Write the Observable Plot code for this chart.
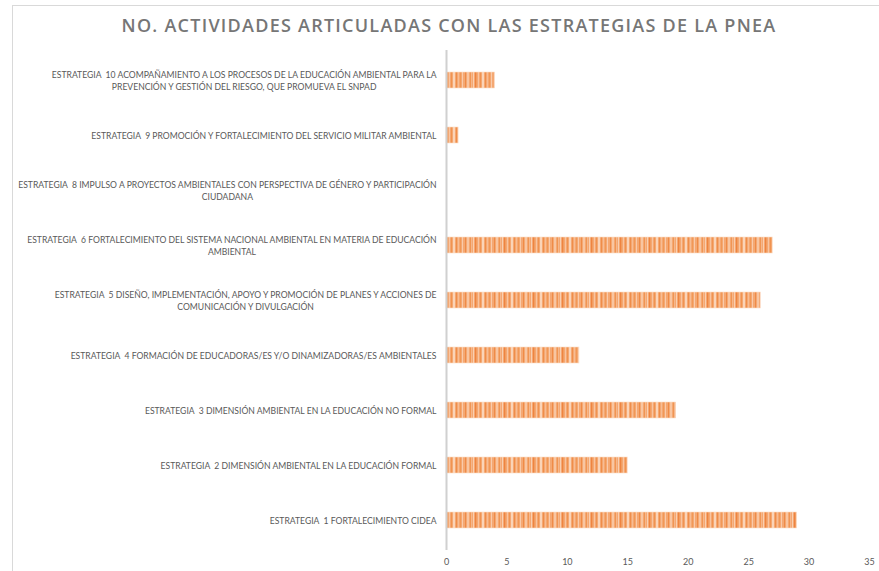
<!DOCTYPE html>
<html>
<head>
<meta charset="utf-8">
<script src="https://cdn.jsdelivr.net/npm/d3@7"></script>
<script src="https://cdn.jsdelivr.net/npm/@observablehq/plot@0.6"></script>
<style>
  html, body { margin: 0; padding: 0; background: #fff; width: 879px; height: 571px; overflow: hidden; }
  #frame { position: absolute; left: 12px; top: 5px; width: 900px; height: 600px; border-top: 1px solid #d9d9d9; border-left: 1px solid #d9d9d9; }
  #title { position: absolute; left: 0; top: 13px; width: 898px; text-align: center; font-family: "Open Sans", sans-serif; font-weight: 600; font-size: 18px; letter-spacing: 1.25px; color: #767676; }
  #chart { position: absolute; left: 0; top: 50px; }
  #chart text { white-space: pre; }
</style>
</head>
<body>
<div id="frame"></div>
<div id="title">NO. ACTIVIDADES ARTICULADAS CON LAS ESTRATEGIAS DE LA PNEA</div>
<div id="chart"></div>
<script>
const categories = [
  "ESTRATEGIA  10 ACOMPAÑAMIENTO A LOS PROCESOS DE LA EDUCACIÓN AMBIENTAL PARA LA\nPREVENCIÓN Y GESTIÓN DEL RIESGO, QUE PROMUEVA EL SNPAD",
  "ESTRATEGIA  9 PROMOCIÓN Y FORTALECIMIENTO DEL SERVICIO MILITAR AMBIENTAL",
  "ESTRATEGIA  8 IMPULSO A PROYECTOS AMBIENTALES CON PERSPECTIVA DE GÉNERO Y PARTICIPACIÓN\nCIUDADANA",
  "ESTRATEGIA  6 FORTALECIMIENTO DEL SISTEMA NACIONAL AMBIENTAL EN MATERIA DE EDUCACIÓN\nAMBIENTAL",
  "ESTRATEGIA  5 DISEÑO, IMPLEMENTACIÓN, APOYO Y PROMOCIÓN DE PLANES Y ACCIONES DE\nCOMUNICACIÓN Y DIVULGACIÓN",
  "ESTRATEGIA  4 FORMACIÓN DE EDUCADORAS/ES Y/O DINAMIZADORAS/ES AMBIENTALES",
  "ESTRATEGIA  3 DIMENSIÓN AMBIENTAL EN LA EDUCACIÓN NO FORMAL",
  "ESTRATEGIA  2 DIMENSIÓN AMBIENTAL EN LA EDUCACIÓN FORMAL",
  "ESTRATEGIA  1 FORTALECIMIENTO CIDEA"
];
const values = [4, 1, 0, 27, 26, 11, 19, 15, 29];
const xTicks = [0, 5, 10, 15, 20, 25, 30, 35];

const data = categories.map((c, i) => ({category: c, value: values[i]}));

const chart = Plot.plot({
  width: 879,
  height: 521,
  marginLeft: 446,
  marginRight: 10,
  marginTop: 0,
  marginBottom: 21,
  style: {fontFamily: "Lato, sans-serif", color: "#595959", background: "transparent"},
  x: {domain: [0, 35], ticks: xTicks},
  y: {domain: categories, paddingInner: 0.71, paddingOuter: 0.355},
  marks: [
    Plot.barX(data, {x: "value", y: "category", fill: "url(#stripes)", stroke: "#fcdcc6", strokeWidth: 0.6}),
    Plot.ruleX([0], {stroke: "#d0d0d0", strokeWidth: 2}),
    Plot.axisX({ticks: xTicks, tickSize: 0, tickPadding: 8, fontSize: 9, label: null, color: "#595959"}),
    Plot.axisY({tickSize: 0, tickPadding: 10, fontSize: 8.6, lineHeight: 1.4, label: null, color: "#595959", textOverflow: null, lineWidth: Infinity})
  ]
});

// pattern definition for the striped bars
const ns = "http://www.w3.org/2000/svg";
const defs = document.createElementNS(ns, "defs");
const pat = document.createElementNS(ns, "pattern");
pat.setAttribute("id", "stripes");
pat.setAttribute("patternUnits", "userSpaceOnUse");
pat.setAttribute("width", "29");
pat.setAttribute("height", "20");
const stripeSpec = [
  [0, 29, "#f4a873"],
  [1, 1, "#ef8b47"], [3, 2, "#f8c6a2"], [6, 1, "#f09553"], [7, 1, "#f6b78b"], [9, 1, "#f9cfb1"],
  [11, 1, "#ee8440"], [12, 1, "#f29c5f"], [14, 1, "#f8c5a1"], [16, 1, "#f09350"], [18, 2, "#fad4b8"],
  [21, 1, "#ef8d49"], [23, 1, "#f7bd94"], [25, 1, "#f19856"], [27, 1, "#f9cbab"]
];
for (const [x, w, c] of stripeSpec) {
  const r = document.createElementNS(ns, "rect");
  r.setAttribute("x", x); r.setAttribute("y", 0);
  r.setAttribute("width", w); r.setAttribute("height", 20);
  r.setAttribute("fill", c);
  pat.appendChild(r);
}
defs.appendChild(pat);
chart.insertBefore(defs, chart.firstChild);

document.getElementById("chart").appendChild(chart);

// center wrapped lines within each label block (right-aligned block)
chart.querySelectorAll('g[aria-label="y-axis tick label"] text').forEach(t => {
  const spans = t.querySelectorAll("tspan");
  if (spans.length > 1) {
    let maxW = 0;
    spans.forEach(s => { maxW = Math.max(maxW, s.getComputedTextLength()); });
    t.setAttribute("text-anchor", "middle");
    spans.forEach(s => s.setAttribute("x", -maxW / 2));
  }
});
</script>
</body>
</html>
